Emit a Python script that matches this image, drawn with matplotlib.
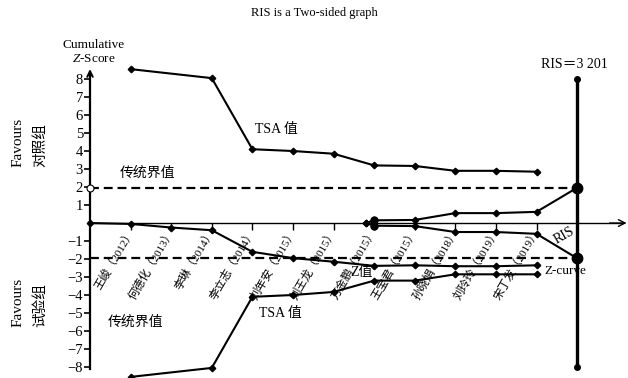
import matplotlib
matplotlib.use("Agg")
import matplotlib.pyplot as plt

plt.rcParams['font.family'] = ['Liberation Serif', 'Noto Sans CJK SC']
plt.rcParams['axes.unicode_minus'] = True
plt.rcParams['mathtext.fontset'] = 'custom'
plt.rcParams['mathtext.rm'] = 'Liberation Serif'
plt.rcParams['mathtext.it'] = 'Liberation Serif:italic'

# Studies in chronological order (x positions 1..11), RIS at x = 12
studies = ["王峻（2012）", "何德化（2013）", "李琳（2014）", "李立志（2014）", "刘年安（2015）",
           "刘王龙（2015）", "方金鹏（2015）", "王宝君（2015）", "孙晓娟（2018）",
           "刘玲玲（2019）", "宋丁发（2019）"]
study_x = list(range(1, 12))
ris_x = 12

# Cumulative Z-curve (starts at origin)
z_x = list(range(0, 12))
z_values = [0, -0.05, -0.25, -0.4, -1.6, -1.95, -2.15, -2.38, -2.35, -2.4, -2.4, -2.35]

# Trial sequential monitoring boundaries (TSA values)
tsa_x = [1, 3, 4, 5, 6, 7, 8, 9, 10, 11]
tsa_upper = [8.55, 8.05, 4.1, 4.0, 3.85, 3.2, 3.17, 2.9, 2.9, 2.85]
tsa_lower = [-8.55, -8.05, -4.1, -4.0, -3.83, -3.2, -3.2, -2.85, -2.85, -2.85]

# Inner (futility) wedge closing at the RIS
inner_x = [6.8, 7, 8, 9, 10, 11, 12]
inner_upper = [0, 0.15, 0.17, 0.55, 0.55, 0.62, 1.96]
inner_lower = [0, -0.15, -0.17, -0.5, -0.5, -0.6, -1.96]

# Conventional boundary
conv = 1.96
ris_top, ris_bottom = 8, -8
y_ticks = [-8, -7, -6, -5, -4, -3, -2, -1, 1, 2, 3, 4, 5, 6, 7, 8]

fig = plt.figure(figsize=(6.28, 3.78), dpi=100)
ax = fig.add_axes([0.111, 0.0005, 0.892, 0.8952])
ax.set_xlim(-0.5, 13.3)
ax.set_ylim(-8.6, 10.2)
ax.set_facecolor('none')

for s in ['top', 'right']:
    ax.spines[s].set_visible(False)
ax.spines['left'].set_position(('data', 0))
ax.spines['bottom'].set_position(('data', 0))
ax.spines['left'].set_bounds(-8.1, 8.4)
ax.spines['bottom'].set_bounds(0, 13.1)
ax.spines['left'].set_linewidth(1.6)
ax.spines['bottom'].set_linewidth(1.0)

# Arrow heads on the axes
ax.annotate('', xy=(0, 8.55), xytext=(0, 8.0),
            arrowprops=dict(arrowstyle='->', lw=1.4, color='black',
                            shrinkA=0, shrinkB=0, mutation_scale=10), clip_on=False)
ax.annotate('', xy=(13.22, 0), xytext=(12.8, 0),
            arrowprops=dict(arrowstyle='->', lw=1.0, color='black',
                            shrinkA=0, shrinkB=0, mutation_scale=12), clip_on=False)

ax.set_yticks(y_ticks)
ax.set_yticklabels([f"{v}".replace('-', '\u2212') for v in y_ticks], fontsize=10.5)
ax.tick_params(axis='y', direction='out', length=4, width=1.2, pad=1)

ax.set_xticks(study_x)
ax.set_xticklabels(studies, rotation=60, ha='right', va='center',
                   rotation_mode='anchor', fontsize=8.2)
ax.tick_params(axis='x', direction='out', length=5, width=1.0, pad=0)
for lbl in ax.get_xticklabels():
    lbl.set_x(lbl.get_position()[0])

line_kw = dict(color='black', lw=1.5, marker='D', markersize=3.3, clip_on=False)

# Conventional boundaries
ax.plot([0, ris_x], [conv, conv], color='black', lw=1.6, ls=(0, (4, 2.2)))
ax.plot([0, ris_x], [-conv, -conv], color='black', lw=1.6, ls=(0, (4, 2.2)))
ax.plot([0], [conv], marker='o', mfc='white', mec='black', ms=5, mew=0.8,
        clip_on=False, zorder=5)

# TSA boundaries
ax.plot(tsa_x, tsa_upper, **line_kw)
ax.plot(tsa_x, tsa_lower, **line_kw)

# Inner wedge
ax.plot(inner_x, inner_upper, **line_kw)
ax.plot(inner_x, inner_lower, **line_kw)
ax.plot([7, 7], [inner_upper[1], inner_lower[1]], 'o', color='black', ms=5)

# Z-curve
ax.plot(z_x, z_values, **line_kw)

# RIS vertical line
ax.plot([ris_x, ris_x], [ris_bottom, ris_top], color='black', lw=2.4)
ax.plot([ris_x, ris_x], [ris_bottom, ris_top], 'o', color='black', ms=4)
ax.plot([ris_x, ris_x], [-conv, conv], 'o', color='black', ms=7.5)

# Annotations
ax.text(4.58, 5.17, "TSA 值", fontsize=10, ha='center', va='center')
ax.text(1.42, 2.78, "传统界值", fontsize=10, ha='center', va='center')
ax.text(1.12, -5.5, "传统界值", fontsize=10, ha='center', va='center')
ax.text(4.68, -5.0, "TSA 值", fontsize=10, ha='center', va='center')
ax.text(6.7, -2.75, "Z值", fontsize=10, ha='center', va='center')
ax.text(11.2, -2.67, "Z-curve", fontsize=9.5, ha='left', va='center')
ax.text(11.67, -0.72, "RIS", fontsize=10, ha='center', va='center', rotation=30)
ax.text(11.93, 8.8, "RIS＝3 201", fontsize=10, ha='center', va='center')

fig.text(314 / 628, 1 - 13 / 378, "RIS is a Two-sided graph", fontsize=9,
         ha='center', va='center')
fig.text(94 / 628, 1 - 45 / 378, "Cumulative", fontsize=9.5, ha='center', va='center')
fig.text(94 / 628, 1 - 59 / 378, "$\\mathit{Z}$-Score", fontsize=9.5,
         ha='center', va='center')

fig.text(18 / 628, 1 - 167 / 378, "Favours", fontsize=11, rotation=90,
         ha='center', va='bottom')
fig.text(40 / 628, 1 - 167 / 378, "对照组", fontsize=10.5, rotation=90,
         ha='center', va='bottom')
fig.text(18 / 628, 1 - 327 / 378, "Favours", fontsize=11, rotation=90,
         ha='center', va='bottom')
fig.text(40 / 628, 1 - 327 / 378, "试验组", fontsize=10.5, rotation=90,
         ha='center', va='bottom')

fig.savefig("out.png", dpi=100)
